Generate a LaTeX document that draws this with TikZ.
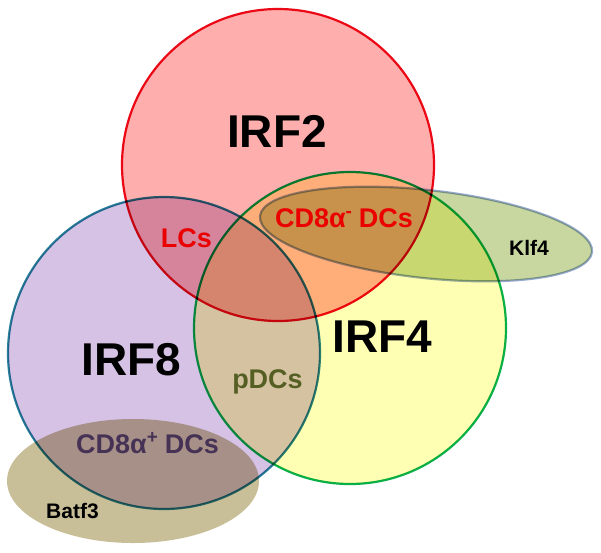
\documentclass[tikz,border=0pt]{standalone}
\usepackage{fontspec}
\setmainfont{Liberation Sans}
\definecolor{fillred}{RGB}{255,174,174}
\definecolor{linered}{RGB}{235,10,25}
\definecolor{fillyellow}{RGB}{255,255,180}
\definecolor{linegreen}{RGB}{10,175,80}
\definecolor{filllilac}{RGB}{213,194,229}
\definecolor{lineteal}{RGB}{40,130,155}
\definecolor{fillolive}{RGB}{200,215,160}
\definecolor{lineslate}{RGB}{150,170,210}
\definecolor{fillkhaki}{RGB}{200,190,152}
\definecolor{textred}{RGB}{235,0,0}
\definecolor{textolive}{RGB}{85,95,35}
\definecolor{textplum}{RGB}{70,50,85}

\begin{document}
\begin{tikzpicture}[
    x=1pt,
    y=-1pt,
    line cap=butt,
    every node/.style={inner sep=0pt, anchor=base},
    factor/.style={font=\fontsize{46}{50}\selectfont\bfseries},
    celltype/.style={font=\fontsize{27}{30}\selectfont\bfseries},
    minorfactor/.style={font=\fontsize{21}{24}\selectfont\bfseries},
    blob/.style={line width=2.2pt, blend mode=multiply}
]
\useasboundingbox (0,0) rectangle (601,552);

% IRF2 circle
\filldraw[blob, fill=fillred, draw=linered] (278,165) circle[radius=156];

% Klf4 ellipse
\filldraw[blob, fill=fillolive, draw=lineslate, rotate around={-6.2:(426,234)}]
      (426,234) ellipse[x radius=167, y radius=44];

% IRF4 circle
\filldraw[blob, fill=fillyellow, draw=linegreen] (350,328) circle[radius=156];

% IRF8 circle
\filldraw[blob, fill=filllilac, draw=lineteal] (164,353) circle[radius=156];

% Batf3 ellipse
\fill[blob, fill=fillkhaki] (133,481) ellipse[x radius=126, y radius=62];

% factor labels
\node[factor] (irf2) at (277,147) {IRF2};
\node[factor] (irf8) at (131.5,375) {IRF8};
\node[factor] (irf4) at (382.5,352) {IRF4};
\node[minorfactor] (klf4) at (529,255) {Klf4};
\node[minorfactor] (batf3) at (72.5,518) {Batf3};

% cell types
\node[celltype, text=textred] (lcs) at (186.5,247) {LCs};
\node[celltype, text=textred] (cdneg) at (344,227) {CD8α\textsuperscript{-}\hspace{-1pt} DCs};
\node[celltype, text=textolive] (pdcs) at (267.5,388) {pDCs};
\node[celltype, text=textplum] (cdpos) at (147.5,453) {CD8α\textsuperscript{+}\hspace{-1pt} DCs};

\end{tikzpicture}
\end{document}
